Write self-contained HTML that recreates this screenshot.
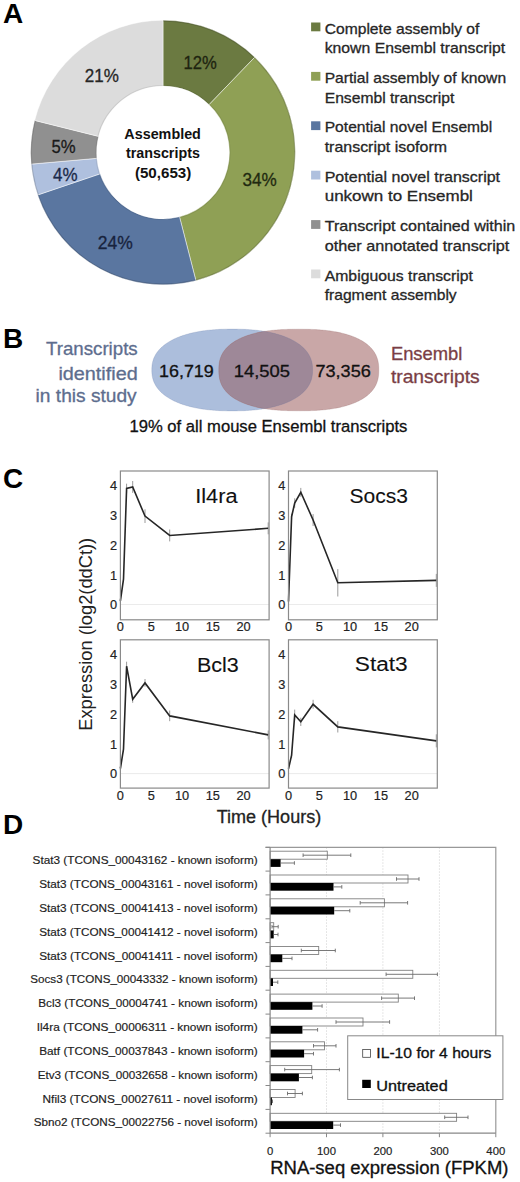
<!DOCTYPE html>
<html><head><meta charset="utf-8"><style>
html,body{margin:0;padding:0;background:#fff;}
svg{display:block;font-family:"Liberation Sans",sans-serif;}
</style></head><body>
<svg width="520" height="1182" viewBox="0 0 520 1182">
<text x="3.0" y="23.2" font-size="28" font-weight="bold" fill="#000">A</text>
<text x="3.0" y="347.7" font-size="28" font-weight="bold" fill="#000">B</text>
<text x="3.0" y="488.2" font-size="28" font-weight="bold" fill="#000">C</text>
<text x="3.0" y="834.0" font-size="28" font-weight="bold" fill="#000">D</text>
<path d="M163.00,20.20 A132.3,132.3 0 0 1 254.77,57.20 L209.06,104.67 A66.4,66.4 0 0 0 163.00,86.10 Z" fill="#6b7a41" stroke="rgba(255,255,255,0.6)" stroke-width="0.8"/>
<path d="M254.77,57.20 A132.3,132.3 0 0 1 195.90,280.64 L179.51,216.81 A66.4,66.4 0 0 0 209.06,104.67 Z" fill="#8fa055" stroke="rgba(255,255,255,0.6)" stroke-width="0.8"/>
<path d="M195.90,280.64 A132.3,132.3 0 0 1 37.70,194.96 L100.11,173.81 A66.4,66.4 0 0 0 179.51,216.81 Z" fill="#5a76a0" stroke="rgba(255,255,255,0.6)" stroke-width="0.8"/>
<path d="M37.70,194.96 A132.3,132.3 0 0 1 31.21,164.12 L96.86,158.33 A66.4,66.4 0 0 0 100.11,173.81 Z" fill="#afc0de" stroke="rgba(255,255,255,0.6)" stroke-width="0.8"/>
<path d="M31.21,164.12 A132.3,132.3 0 0 1 34.65,120.40 L98.58,136.39 A66.4,66.4 0 0 0 96.86,158.33 Z" fill="#909090" stroke="rgba(255,255,255,0.6)" stroke-width="0.8"/>
<path d="M34.65,120.40 A132.3,132.3 0 0 1 163.00,20.20 L163.00,86.10 A66.4,66.4 0 0 0 98.58,136.39 Z" fill="#dcdcdc" stroke="rgba(255,255,255,0.6)" stroke-width="0.8"/>
<path d="M163.00,20.80 A131.70000000000002,131.70000000000002 0 1 1 35.21,120.64" fill="none" stroke="rgba(0,0,0,0.16)" stroke-width="1.2"/>
<circle cx="163.0" cy="152.5" r="67.0" fill="none" stroke="rgba(0,0,0,0.08)" stroke-width="1.2"/>
<text x="183.6" y="68.7" font-size="17.8" fill="#1e2410" textLength="33.3" lengthAdjust="spacingAndGlyphs" stroke="#1e2410" stroke-width="0.30">12%</text>
<text x="242.4" y="186.0" font-size="17.8" fill="#1f2a10" textLength="34.3" lengthAdjust="spacingAndGlyphs" stroke="#1f2a10" stroke-width="0.30">34%</text>
<text x="97.8" y="248.7" font-size="17.8" fill="#18233d" textLength="35.0" lengthAdjust="spacingAndGlyphs" stroke="#18233d" stroke-width="0.30">24%</text>
<text x="53.0" y="181.2" font-size="17.8" fill="#1b2a4a" textLength="24.5" lengthAdjust="spacingAndGlyphs" stroke="#1b2a4a" stroke-width="0.30">4%</text>
<text x="51.5" y="153.3" font-size="17.8" fill="#1a1a1a" textLength="24.1" lengthAdjust="spacingAndGlyphs" stroke="#1a1a1a" stroke-width="0.30">5%</text>
<text x="84.7" y="82.4" font-size="17.8" fill="#262626" textLength="34.1" lengthAdjust="spacingAndGlyphs" stroke="#262626" stroke-width="0.30">21%</text>
<text x="124.3" y="139.4" font-size="14.2" font-weight="bold" fill="#111" textLength="76.6" lengthAdjust="spacingAndGlyphs">Assembled</text>
<text x="125.9" y="158.3" font-size="14.2" font-weight="bold" fill="#111" textLength="74.0" lengthAdjust="spacingAndGlyphs">transcripts</text>
<text x="134.9" y="177.5" font-size="14.2" font-weight="bold" fill="#111" textLength="56.4" lengthAdjust="spacingAndGlyphs">(50,653)</text>
<rect x="311.1" y="22.5" width="9.3" height="8.8" fill="#6b7a41"/>
<text x="324.7" y="33.5" font-size="15" fill="#262626" textLength="154.7" lengthAdjust="spacingAndGlyphs" stroke="#262626" stroke-width="0.30">Complete assembly of</text>
<text x="324.7" y="53.1" font-size="15" fill="#262626" textLength="180.5" lengthAdjust="spacingAndGlyphs" stroke="#262626" stroke-width="0.30">known Ensembl transcript</text>
<rect x="311.1" y="71.9" width="9.3" height="8.8" fill="#8fa055"/>
<text x="324.7" y="82.9" font-size="15" fill="#262626" textLength="181.4" lengthAdjust="spacingAndGlyphs" stroke="#262626" stroke-width="0.30">Partial assembly of known</text>
<text x="324.7" y="102.5" font-size="15" fill="#262626" textLength="129.7" lengthAdjust="spacingAndGlyphs" stroke="#262626" stroke-width="0.30">Ensembl transcript</text>
<rect x="311.1" y="121.3" width="9.3" height="8.8" fill="#5a76a0"/>
<text x="324.7" y="132.3" font-size="15" fill="#262626" textLength="167.6" lengthAdjust="spacingAndGlyphs" stroke="#262626" stroke-width="0.30">Potential novel Ensembl</text>
<text x="324.7" y="151.9" font-size="15" fill="#262626" textLength="122.3" lengthAdjust="spacingAndGlyphs" stroke="#262626" stroke-width="0.30">transcript isoform</text>
<rect x="311.1" y="170.7" width="9.3" height="8.8" fill="#afc0de"/>
<text x="324.7" y="181.7" font-size="15" fill="#262626" textLength="175.4" lengthAdjust="spacingAndGlyphs" stroke="#262626" stroke-width="0.30">Potential novel transcript</text>
<text x="324.7" y="201.3" font-size="15" fill="#262626" textLength="148.2" lengthAdjust="spacingAndGlyphs" stroke="#262626" stroke-width="0.30">unkown to Ensembl</text>
<rect x="311.1" y="220.1" width="9.3" height="8.8" fill="#909090"/>
<text x="324.7" y="231.1" font-size="15" fill="#262626" textLength="190.6" lengthAdjust="spacingAndGlyphs" stroke="#262626" stroke-width="0.30">Transcript contained within</text>
<text x="324.7" y="250.7" font-size="15" fill="#262626" textLength="184.7" lengthAdjust="spacingAndGlyphs" stroke="#262626" stroke-width="0.30">other annotated transcript</text>
<rect x="311.1" y="269.5" width="9.3" height="8.8" fill="#dcdcdc"/>
<text x="324.7" y="280.5" font-size="15" fill="#262626" textLength="148.2" lengthAdjust="spacingAndGlyphs" stroke="#262626" stroke-width="0.30">Ambiguous transcript</text>
<text x="324.7" y="300.1" font-size="15" fill="#262626" textLength="132.0" lengthAdjust="spacingAndGlyphs" stroke="#262626" stroke-width="0.30">fragment assembly</text>
<defs><clipPath id="cb"><path d="M312.60,370.00 L312.59,371.21 L312.56,372.21 L312.50,373.15 L312.43,374.04 L312.33,374.90 L312.22,375.74 L312.08,376.56 L311.92,377.36 L311.74,378.15 L311.54,378.92 L311.31,379.69 L311.07,380.44 L310.81,381.18 L310.52,381.91 L310.21,382.63 L309.88,383.34 L309.54,384.04 L309.17,384.73 L308.78,385.41 L308.37,386.09 L307.94,386.76 L307.48,387.41 L307.01,388.06 L306.52,388.71 L306.01,389.34 L305.48,389.97 L304.92,390.58 L304.35,391.19 L303.76,391.79 L303.15,392.39 L302.52,392.97 L301.86,393.55 L301.19,394.11 L300.50,394.67 L299.80,395.22 L299.07,395.77 L298.32,396.30 L297.56,396.83 L296.77,397.34 L295.97,397.85 L295.15,398.35 L294.31,398.84 L293.45,399.32 L292.57,399.79 L291.68,400.26 L290.77,400.71 L289.84,401.16 L288.89,401.59 L287.93,402.02 L286.95,402.44 L285.95,402.85 L284.93,403.25 L283.90,403.64 L282.85,404.02 L281.78,404.39 L280.70,404.75 L279.60,405.10 L278.48,405.44 L277.35,405.77 L276.20,406.09 L275.04,406.40 L273.86,406.70 L272.66,406.99 L271.45,407.28 L270.22,407.55 L268.97,407.81 L267.71,408.06 L266.43,408.30 L265.14,408.53 L263.83,408.75 L262.50,408.96 L261.16,409.15 L259.80,409.34 L258.42,409.52 L257.02,409.69 L255.61,409.84 L254.17,409.99 L252.72,410.12 L251.24,410.25 L249.74,410.36 L248.22,410.46 L246.67,410.55 L245.09,410.63 L243.48,410.71 L241.83,410.76 L240.14,410.81 L238.38,410.85 L236.55,410.88 L234.58,410.89 L232.20,410.90 L229.82,410.89 L227.85,410.88 L226.02,410.85 L224.26,410.81 L222.57,410.76 L220.92,410.71 L219.31,410.63 L217.73,410.55 L216.18,410.46 L214.66,410.36 L213.16,410.25 L211.68,410.12 L210.23,409.99 L208.79,409.84 L207.38,409.69 L205.98,409.52 L204.60,409.34 L203.24,409.15 L201.90,408.96 L200.57,408.75 L199.26,408.53 L197.97,408.30 L196.69,408.06 L195.43,407.81 L194.18,407.55 L192.95,407.28 L191.74,406.99 L190.54,406.70 L189.36,406.40 L188.20,406.09 L187.05,405.77 L185.92,405.44 L184.80,405.10 L183.70,404.75 L182.62,404.39 L181.55,404.02 L180.50,403.64 L179.47,403.25 L178.45,402.85 L177.45,402.44 L176.47,402.02 L175.51,401.59 L174.56,401.16 L173.63,400.71 L172.72,400.26 L171.83,399.79 L170.95,399.32 L170.09,398.84 L169.25,398.35 L168.43,397.85 L167.63,397.34 L166.84,396.83 L166.08,396.30 L165.33,395.77 L164.60,395.22 L163.90,394.67 L163.21,394.11 L162.54,393.55 L161.88,392.97 L161.25,392.39 L160.64,391.79 L160.05,391.19 L159.48,390.58 L158.92,389.97 L158.39,389.34 L157.88,388.71 L157.39,388.06 L156.92,387.41 L156.46,386.76 L156.03,386.09 L155.62,385.41 L155.23,384.73 L154.86,384.04 L154.52,383.34 L154.19,382.63 L153.88,381.91 L153.59,381.18 L153.33,380.44 L153.09,379.69 L152.86,378.92 L152.66,378.15 L152.48,377.36 L152.32,376.56 L152.18,375.74 L152.07,374.90 L151.97,374.04 L151.90,373.15 L151.84,372.21 L151.81,371.21 L151.80,370.00 L151.81,368.79 L151.84,367.79 L151.90,366.85 L151.97,365.96 L152.07,365.10 L152.18,364.26 L152.32,363.44 L152.48,362.64 L152.66,361.85 L152.86,361.08 L153.09,360.31 L153.33,359.56 L153.59,358.82 L153.88,358.09 L154.19,357.37 L154.52,356.66 L154.86,355.96 L155.23,355.27 L155.62,354.59 L156.03,353.91 L156.46,353.24 L156.92,352.59 L157.39,351.94 L157.88,351.29 L158.39,350.66 L158.92,350.03 L159.48,349.42 L160.05,348.81 L160.64,348.21 L161.25,347.61 L161.88,347.03 L162.54,346.45 L163.21,345.89 L163.90,345.33 L164.60,344.78 L165.33,344.23 L166.08,343.70 L166.84,343.17 L167.63,342.66 L168.43,342.15 L169.25,341.65 L170.09,341.16 L170.95,340.68 L171.83,340.21 L172.72,339.74 L173.63,339.29 L174.56,338.84 L175.51,338.41 L176.47,337.98 L177.45,337.56 L178.45,337.15 L179.47,336.75 L180.50,336.36 L181.55,335.98 L182.62,335.61 L183.70,335.25 L184.80,334.90 L185.92,334.56 L187.05,334.23 L188.20,333.91 L189.36,333.60 L190.54,333.30 L191.74,333.01 L192.95,332.72 L194.18,332.45 L195.43,332.19 L196.69,331.94 L197.97,331.70 L199.26,331.47 L200.57,331.25 L201.90,331.04 L203.24,330.85 L204.60,330.66 L205.98,330.48 L207.38,330.31 L208.79,330.16 L210.23,330.01 L211.68,329.88 L213.16,329.75 L214.66,329.64 L216.18,329.54 L217.73,329.45 L219.31,329.37 L220.92,329.29 L222.57,329.24 L224.26,329.19 L226.02,329.15 L227.85,329.12 L229.82,329.11 L232.20,329.10 L234.58,329.11 L236.55,329.12 L238.38,329.15 L240.14,329.19 L241.83,329.24 L243.48,329.29 L245.09,329.37 L246.67,329.45 L248.22,329.54 L249.74,329.64 L251.24,329.75 L252.72,329.88 L254.17,330.01 L255.61,330.16 L257.02,330.31 L258.42,330.48 L259.80,330.66 L261.16,330.85 L262.50,331.04 L263.83,331.25 L265.14,331.47 L266.43,331.70 L267.71,331.94 L268.97,332.19 L270.22,332.45 L271.45,332.72 L272.66,333.01 L273.86,333.30 L275.04,333.60 L276.20,333.91 L277.35,334.23 L278.48,334.56 L279.60,334.90 L280.70,335.25 L281.78,335.61 L282.85,335.98 L283.90,336.36 L284.93,336.75 L285.95,337.15 L286.95,337.56 L287.93,337.98 L288.89,338.41 L289.84,338.84 L290.77,339.29 L291.68,339.74 L292.57,340.21 L293.45,340.68 L294.31,341.16 L295.15,341.65 L295.97,342.15 L296.77,342.66 L297.56,343.17 L298.32,343.70 L299.07,344.23 L299.80,344.78 L300.50,345.33 L301.19,345.89 L301.86,346.45 L302.52,347.03 L303.15,347.61 L303.76,348.21 L304.35,348.81 L304.92,349.42 L305.48,350.03 L306.01,350.66 L306.52,351.29 L307.01,351.94 L307.48,352.59 L307.94,353.24 L308.37,353.91 L308.78,354.59 L309.17,355.27 L309.54,355.96 L309.88,356.66 L310.21,357.37 L310.52,358.09 L310.81,358.82 L311.07,359.56 L311.31,360.31 L311.54,361.08 L311.74,361.85 L311.92,362.64 L312.08,363.44 L312.22,364.26 L312.33,365.10 L312.43,365.96 L312.50,366.85 L312.56,367.79 L312.59,368.79Z"/></clipPath></defs>
<path d="M312.60,370.00 L312.59,371.21 L312.56,372.21 L312.50,373.15 L312.43,374.04 L312.33,374.90 L312.22,375.74 L312.08,376.56 L311.92,377.36 L311.74,378.15 L311.54,378.92 L311.31,379.69 L311.07,380.44 L310.81,381.18 L310.52,381.91 L310.21,382.63 L309.88,383.34 L309.54,384.04 L309.17,384.73 L308.78,385.41 L308.37,386.09 L307.94,386.76 L307.48,387.41 L307.01,388.06 L306.52,388.71 L306.01,389.34 L305.48,389.97 L304.92,390.58 L304.35,391.19 L303.76,391.79 L303.15,392.39 L302.52,392.97 L301.86,393.55 L301.19,394.11 L300.50,394.67 L299.80,395.22 L299.07,395.77 L298.32,396.30 L297.56,396.83 L296.77,397.34 L295.97,397.85 L295.15,398.35 L294.31,398.84 L293.45,399.32 L292.57,399.79 L291.68,400.26 L290.77,400.71 L289.84,401.16 L288.89,401.59 L287.93,402.02 L286.95,402.44 L285.95,402.85 L284.93,403.25 L283.90,403.64 L282.85,404.02 L281.78,404.39 L280.70,404.75 L279.60,405.10 L278.48,405.44 L277.35,405.77 L276.20,406.09 L275.04,406.40 L273.86,406.70 L272.66,406.99 L271.45,407.28 L270.22,407.55 L268.97,407.81 L267.71,408.06 L266.43,408.30 L265.14,408.53 L263.83,408.75 L262.50,408.96 L261.16,409.15 L259.80,409.34 L258.42,409.52 L257.02,409.69 L255.61,409.84 L254.17,409.99 L252.72,410.12 L251.24,410.25 L249.74,410.36 L248.22,410.46 L246.67,410.55 L245.09,410.63 L243.48,410.71 L241.83,410.76 L240.14,410.81 L238.38,410.85 L236.55,410.88 L234.58,410.89 L232.20,410.90 L229.82,410.89 L227.85,410.88 L226.02,410.85 L224.26,410.81 L222.57,410.76 L220.92,410.71 L219.31,410.63 L217.73,410.55 L216.18,410.46 L214.66,410.36 L213.16,410.25 L211.68,410.12 L210.23,409.99 L208.79,409.84 L207.38,409.69 L205.98,409.52 L204.60,409.34 L203.24,409.15 L201.90,408.96 L200.57,408.75 L199.26,408.53 L197.97,408.30 L196.69,408.06 L195.43,407.81 L194.18,407.55 L192.95,407.28 L191.74,406.99 L190.54,406.70 L189.36,406.40 L188.20,406.09 L187.05,405.77 L185.92,405.44 L184.80,405.10 L183.70,404.75 L182.62,404.39 L181.55,404.02 L180.50,403.64 L179.47,403.25 L178.45,402.85 L177.45,402.44 L176.47,402.02 L175.51,401.59 L174.56,401.16 L173.63,400.71 L172.72,400.26 L171.83,399.79 L170.95,399.32 L170.09,398.84 L169.25,398.35 L168.43,397.85 L167.63,397.34 L166.84,396.83 L166.08,396.30 L165.33,395.77 L164.60,395.22 L163.90,394.67 L163.21,394.11 L162.54,393.55 L161.88,392.97 L161.25,392.39 L160.64,391.79 L160.05,391.19 L159.48,390.58 L158.92,389.97 L158.39,389.34 L157.88,388.71 L157.39,388.06 L156.92,387.41 L156.46,386.76 L156.03,386.09 L155.62,385.41 L155.23,384.73 L154.86,384.04 L154.52,383.34 L154.19,382.63 L153.88,381.91 L153.59,381.18 L153.33,380.44 L153.09,379.69 L152.86,378.92 L152.66,378.15 L152.48,377.36 L152.32,376.56 L152.18,375.74 L152.07,374.90 L151.97,374.04 L151.90,373.15 L151.84,372.21 L151.81,371.21 L151.80,370.00 L151.81,368.79 L151.84,367.79 L151.90,366.85 L151.97,365.96 L152.07,365.10 L152.18,364.26 L152.32,363.44 L152.48,362.64 L152.66,361.85 L152.86,361.08 L153.09,360.31 L153.33,359.56 L153.59,358.82 L153.88,358.09 L154.19,357.37 L154.52,356.66 L154.86,355.96 L155.23,355.27 L155.62,354.59 L156.03,353.91 L156.46,353.24 L156.92,352.59 L157.39,351.94 L157.88,351.29 L158.39,350.66 L158.92,350.03 L159.48,349.42 L160.05,348.81 L160.64,348.21 L161.25,347.61 L161.88,347.03 L162.54,346.45 L163.21,345.89 L163.90,345.33 L164.60,344.78 L165.33,344.23 L166.08,343.70 L166.84,343.17 L167.63,342.66 L168.43,342.15 L169.25,341.65 L170.09,341.16 L170.95,340.68 L171.83,340.21 L172.72,339.74 L173.63,339.29 L174.56,338.84 L175.51,338.41 L176.47,337.98 L177.45,337.56 L178.45,337.15 L179.47,336.75 L180.50,336.36 L181.55,335.98 L182.62,335.61 L183.70,335.25 L184.80,334.90 L185.92,334.56 L187.05,334.23 L188.20,333.91 L189.36,333.60 L190.54,333.30 L191.74,333.01 L192.95,332.72 L194.18,332.45 L195.43,332.19 L196.69,331.94 L197.97,331.70 L199.26,331.47 L200.57,331.25 L201.90,331.04 L203.24,330.85 L204.60,330.66 L205.98,330.48 L207.38,330.31 L208.79,330.16 L210.23,330.01 L211.68,329.88 L213.16,329.75 L214.66,329.64 L216.18,329.54 L217.73,329.45 L219.31,329.37 L220.92,329.29 L222.57,329.24 L224.26,329.19 L226.02,329.15 L227.85,329.12 L229.82,329.11 L232.20,329.10 L234.58,329.11 L236.55,329.12 L238.38,329.15 L240.14,329.19 L241.83,329.24 L243.48,329.29 L245.09,329.37 L246.67,329.45 L248.22,329.54 L249.74,329.64 L251.24,329.75 L252.72,329.88 L254.17,330.01 L255.61,330.16 L257.02,330.31 L258.42,330.48 L259.80,330.66 L261.16,330.85 L262.50,331.04 L263.83,331.25 L265.14,331.47 L266.43,331.70 L267.71,331.94 L268.97,332.19 L270.22,332.45 L271.45,332.72 L272.66,333.01 L273.86,333.30 L275.04,333.60 L276.20,333.91 L277.35,334.23 L278.48,334.56 L279.60,334.90 L280.70,335.25 L281.78,335.61 L282.85,335.98 L283.90,336.36 L284.93,336.75 L285.95,337.15 L286.95,337.56 L287.93,337.98 L288.89,338.41 L289.84,338.84 L290.77,339.29 L291.68,339.74 L292.57,340.21 L293.45,340.68 L294.31,341.16 L295.15,341.65 L295.97,342.15 L296.77,342.66 L297.56,343.17 L298.32,343.70 L299.07,344.23 L299.80,344.78 L300.50,345.33 L301.19,345.89 L301.86,346.45 L302.52,347.03 L303.15,347.61 L303.76,348.21 L304.35,348.81 L304.92,349.42 L305.48,350.03 L306.01,350.66 L306.52,351.29 L307.01,351.94 L307.48,352.59 L307.94,353.24 L308.37,353.91 L308.78,354.59 L309.17,355.27 L309.54,355.96 L309.88,356.66 L310.21,357.37 L310.52,358.09 L310.81,358.82 L311.07,359.56 L311.31,360.31 L311.54,361.08 L311.74,361.85 L311.92,362.64 L312.08,363.44 L312.22,364.26 L312.33,365.10 L312.43,365.96 L312.50,366.85 L312.56,367.79 L312.59,368.79Z" fill="#acbedc"/>
<path d="M378.80,370.00 L378.79,371.50 L378.76,372.64 L378.71,373.67 L378.64,374.64 L378.55,375.57 L378.44,376.46 L378.31,377.32 L378.16,378.16 L378.00,378.97 L377.81,379.77 L377.60,380.55 L377.37,381.32 L377.12,382.07 L376.85,382.81 L376.57,383.54 L376.26,384.25 L375.93,384.95 L375.59,385.64 L375.22,386.32 L374.84,386.99 L374.44,387.65 L374.01,388.30 L373.57,388.95 L373.11,389.58 L372.63,390.20 L372.13,390.81 L371.61,391.41 L371.07,392.01 L370.51,392.59 L369.94,393.17 L369.34,393.74 L368.73,394.30 L368.10,394.84 L367.45,395.39 L366.78,395.92 L366.09,396.44 L365.38,396.95 L364.66,397.46 L363.92,397.96 L363.16,398.44 L362.38,398.92 L361.58,399.39 L360.77,399.85 L359.94,400.30 L359.09,400.75 L358.22,401.18 L357.33,401.60 L356.43,402.02 L355.51,402.43 L354.57,402.82 L353.62,403.21 L352.64,403.59 L351.65,403.96 L350.64,404.32 L349.62,404.67 L348.58,405.01 L347.52,405.34 L346.44,405.66 L345.34,405.98 L344.23,406.28 L343.10,406.57 L341.95,406.86 L340.79,407.13 L339.61,407.40 L338.40,407.65 L337.19,407.90 L335.95,408.13 L334.69,408.36 L333.42,408.57 L332.12,408.78 L330.81,408.98 L329.47,409.16 L328.12,409.34 L326.74,409.51 L325.34,409.66 L323.92,409.81 L322.47,409.94 L321.00,410.07 L319.49,410.19 L317.96,410.29 L316.40,410.39 L314.79,410.48 L313.15,410.55 L311.46,410.62 L309.72,410.67 L307.90,410.72 L306.00,410.75 L303.97,410.78 L301.74,410.79 L298.80,410.80 L295.86,410.79 L293.63,410.78 L291.60,410.75 L289.70,410.72 L287.88,410.67 L286.14,410.62 L284.45,410.55 L282.81,410.48 L281.20,410.39 L279.64,410.29 L278.11,410.19 L276.60,410.07 L275.13,409.94 L273.68,409.81 L272.26,409.66 L270.86,409.51 L269.48,409.34 L268.13,409.16 L266.79,408.98 L265.48,408.78 L264.18,408.57 L262.91,408.36 L261.65,408.13 L260.41,407.90 L259.20,407.65 L257.99,407.40 L256.81,407.13 L255.65,406.86 L254.50,406.57 L253.37,406.28 L252.26,405.98 L251.16,405.66 L250.08,405.34 L249.02,405.01 L247.98,404.67 L246.96,404.32 L245.95,403.96 L244.96,403.59 L243.98,403.21 L243.03,402.82 L242.09,402.43 L241.17,402.02 L240.27,401.60 L239.38,401.18 L238.51,400.75 L237.66,400.30 L236.83,399.85 L236.02,399.39 L235.22,398.92 L234.44,398.44 L233.68,397.96 L232.94,397.46 L232.22,396.95 L231.51,396.44 L230.82,395.92 L230.15,395.39 L229.50,394.84 L228.87,394.30 L228.26,393.74 L227.66,393.17 L227.09,392.59 L226.53,392.01 L225.99,391.41 L225.47,390.81 L224.97,390.20 L224.49,389.58 L224.03,388.95 L223.59,388.30 L223.16,387.65 L222.76,386.99 L222.38,386.32 L222.01,385.64 L221.67,384.95 L221.34,384.25 L221.03,383.54 L220.75,382.81 L220.48,382.07 L220.23,381.32 L220.00,380.55 L219.79,379.77 L219.60,378.97 L219.44,378.16 L219.29,377.32 L219.16,376.46 L219.05,375.57 L218.96,374.64 L218.89,373.67 L218.84,372.64 L218.81,371.50 L218.80,370.00 L218.81,368.50 L218.84,367.36 L218.89,366.33 L218.96,365.36 L219.05,364.43 L219.16,363.54 L219.29,362.68 L219.44,361.84 L219.60,361.03 L219.79,360.23 L220.00,359.45 L220.23,358.68 L220.48,357.93 L220.75,357.19 L221.03,356.46 L221.34,355.75 L221.67,355.05 L222.01,354.36 L222.38,353.68 L222.76,353.01 L223.16,352.35 L223.59,351.70 L224.03,351.05 L224.49,350.42 L224.97,349.80 L225.47,349.19 L225.99,348.59 L226.53,347.99 L227.09,347.41 L227.66,346.83 L228.26,346.26 L228.87,345.70 L229.50,345.16 L230.15,344.61 L230.82,344.08 L231.51,343.56 L232.22,343.05 L232.94,342.54 L233.68,342.04 L234.44,341.56 L235.22,341.08 L236.02,340.61 L236.83,340.15 L237.66,339.70 L238.51,339.25 L239.38,338.82 L240.27,338.40 L241.17,337.98 L242.09,337.57 L243.03,337.18 L243.98,336.79 L244.96,336.41 L245.95,336.04 L246.96,335.68 L247.98,335.33 L249.02,334.99 L250.08,334.66 L251.16,334.34 L252.26,334.02 L253.37,333.72 L254.50,333.43 L255.65,333.14 L256.81,332.87 L257.99,332.60 L259.20,332.35 L260.41,332.10 L261.65,331.87 L262.91,331.64 L264.18,331.43 L265.48,331.22 L266.79,331.02 L268.13,330.84 L269.48,330.66 L270.86,330.49 L272.26,330.34 L273.68,330.19 L275.13,330.06 L276.60,329.93 L278.11,329.81 L279.64,329.71 L281.20,329.61 L282.81,329.52 L284.45,329.45 L286.14,329.38 L287.88,329.33 L289.70,329.28 L291.60,329.25 L293.63,329.22 L295.86,329.21 L298.80,329.20 L301.74,329.21 L303.97,329.22 L306.00,329.25 L307.90,329.28 L309.72,329.33 L311.46,329.38 L313.15,329.45 L314.79,329.52 L316.40,329.61 L317.96,329.71 L319.49,329.81 L321.00,329.93 L322.47,330.06 L323.92,330.19 L325.34,330.34 L326.74,330.49 L328.12,330.66 L329.47,330.84 L330.81,331.02 L332.12,331.22 L333.42,331.43 L334.69,331.64 L335.95,331.87 L337.19,332.10 L338.40,332.35 L339.61,332.60 L340.79,332.87 L341.95,333.14 L343.10,333.43 L344.23,333.72 L345.34,334.02 L346.44,334.34 L347.52,334.66 L348.58,334.99 L349.62,335.33 L350.64,335.68 L351.65,336.04 L352.64,336.41 L353.62,336.79 L354.57,337.18 L355.51,337.57 L356.43,337.98 L357.33,338.40 L358.22,338.82 L359.09,339.25 L359.94,339.70 L360.77,340.15 L361.58,340.61 L362.38,341.08 L363.16,341.56 L363.92,342.04 L364.66,342.54 L365.38,343.05 L366.09,343.56 L366.78,344.08 L367.45,344.61 L368.10,345.16 L368.73,345.70 L369.34,346.26 L369.94,346.83 L370.51,347.41 L371.07,347.99 L371.61,348.59 L372.13,349.19 L372.63,349.80 L373.11,350.42 L373.57,351.05 L374.01,351.70 L374.44,352.35 L374.84,353.01 L375.22,353.68 L375.59,354.36 L375.93,355.05 L376.26,355.75 L376.57,356.46 L376.85,357.19 L377.12,357.93 L377.37,358.68 L377.60,359.45 L377.81,360.23 L378.00,361.03 L378.16,361.84 L378.31,362.68 L378.44,363.54 L378.55,364.43 L378.64,365.36 L378.71,366.33 L378.76,367.36 L378.79,368.50Z" fill="#c9a7a7"/>
<path d="M378.80,370.00 L378.79,371.50 L378.76,372.64 L378.71,373.67 L378.64,374.64 L378.55,375.57 L378.44,376.46 L378.31,377.32 L378.16,378.16 L378.00,378.97 L377.81,379.77 L377.60,380.55 L377.37,381.32 L377.12,382.07 L376.85,382.81 L376.57,383.54 L376.26,384.25 L375.93,384.95 L375.59,385.64 L375.22,386.32 L374.84,386.99 L374.44,387.65 L374.01,388.30 L373.57,388.95 L373.11,389.58 L372.63,390.20 L372.13,390.81 L371.61,391.41 L371.07,392.01 L370.51,392.59 L369.94,393.17 L369.34,393.74 L368.73,394.30 L368.10,394.84 L367.45,395.39 L366.78,395.92 L366.09,396.44 L365.38,396.95 L364.66,397.46 L363.92,397.96 L363.16,398.44 L362.38,398.92 L361.58,399.39 L360.77,399.85 L359.94,400.30 L359.09,400.75 L358.22,401.18 L357.33,401.60 L356.43,402.02 L355.51,402.43 L354.57,402.82 L353.62,403.21 L352.64,403.59 L351.65,403.96 L350.64,404.32 L349.62,404.67 L348.58,405.01 L347.52,405.34 L346.44,405.66 L345.34,405.98 L344.23,406.28 L343.10,406.57 L341.95,406.86 L340.79,407.13 L339.61,407.40 L338.40,407.65 L337.19,407.90 L335.95,408.13 L334.69,408.36 L333.42,408.57 L332.12,408.78 L330.81,408.98 L329.47,409.16 L328.12,409.34 L326.74,409.51 L325.34,409.66 L323.92,409.81 L322.47,409.94 L321.00,410.07 L319.49,410.19 L317.96,410.29 L316.40,410.39 L314.79,410.48 L313.15,410.55 L311.46,410.62 L309.72,410.67 L307.90,410.72 L306.00,410.75 L303.97,410.78 L301.74,410.79 L298.80,410.80 L295.86,410.79 L293.63,410.78 L291.60,410.75 L289.70,410.72 L287.88,410.67 L286.14,410.62 L284.45,410.55 L282.81,410.48 L281.20,410.39 L279.64,410.29 L278.11,410.19 L276.60,410.07 L275.13,409.94 L273.68,409.81 L272.26,409.66 L270.86,409.51 L269.48,409.34 L268.13,409.16 L266.79,408.98 L265.48,408.78 L264.18,408.57 L262.91,408.36 L261.65,408.13 L260.41,407.90 L259.20,407.65 L257.99,407.40 L256.81,407.13 L255.65,406.86 L254.50,406.57 L253.37,406.28 L252.26,405.98 L251.16,405.66 L250.08,405.34 L249.02,405.01 L247.98,404.67 L246.96,404.32 L245.95,403.96 L244.96,403.59 L243.98,403.21 L243.03,402.82 L242.09,402.43 L241.17,402.02 L240.27,401.60 L239.38,401.18 L238.51,400.75 L237.66,400.30 L236.83,399.85 L236.02,399.39 L235.22,398.92 L234.44,398.44 L233.68,397.96 L232.94,397.46 L232.22,396.95 L231.51,396.44 L230.82,395.92 L230.15,395.39 L229.50,394.84 L228.87,394.30 L228.26,393.74 L227.66,393.17 L227.09,392.59 L226.53,392.01 L225.99,391.41 L225.47,390.81 L224.97,390.20 L224.49,389.58 L224.03,388.95 L223.59,388.30 L223.16,387.65 L222.76,386.99 L222.38,386.32 L222.01,385.64 L221.67,384.95 L221.34,384.25 L221.03,383.54 L220.75,382.81 L220.48,382.07 L220.23,381.32 L220.00,380.55 L219.79,379.77 L219.60,378.97 L219.44,378.16 L219.29,377.32 L219.16,376.46 L219.05,375.57 L218.96,374.64 L218.89,373.67 L218.84,372.64 L218.81,371.50 L218.80,370.00 L218.81,368.50 L218.84,367.36 L218.89,366.33 L218.96,365.36 L219.05,364.43 L219.16,363.54 L219.29,362.68 L219.44,361.84 L219.60,361.03 L219.79,360.23 L220.00,359.45 L220.23,358.68 L220.48,357.93 L220.75,357.19 L221.03,356.46 L221.34,355.75 L221.67,355.05 L222.01,354.36 L222.38,353.68 L222.76,353.01 L223.16,352.35 L223.59,351.70 L224.03,351.05 L224.49,350.42 L224.97,349.80 L225.47,349.19 L225.99,348.59 L226.53,347.99 L227.09,347.41 L227.66,346.83 L228.26,346.26 L228.87,345.70 L229.50,345.16 L230.15,344.61 L230.82,344.08 L231.51,343.56 L232.22,343.05 L232.94,342.54 L233.68,342.04 L234.44,341.56 L235.22,341.08 L236.02,340.61 L236.83,340.15 L237.66,339.70 L238.51,339.25 L239.38,338.82 L240.27,338.40 L241.17,337.98 L242.09,337.57 L243.03,337.18 L243.98,336.79 L244.96,336.41 L245.95,336.04 L246.96,335.68 L247.98,335.33 L249.02,334.99 L250.08,334.66 L251.16,334.34 L252.26,334.02 L253.37,333.72 L254.50,333.43 L255.65,333.14 L256.81,332.87 L257.99,332.60 L259.20,332.35 L260.41,332.10 L261.65,331.87 L262.91,331.64 L264.18,331.43 L265.48,331.22 L266.79,331.02 L268.13,330.84 L269.48,330.66 L270.86,330.49 L272.26,330.34 L273.68,330.19 L275.13,330.06 L276.60,329.93 L278.11,329.81 L279.64,329.71 L281.20,329.61 L282.81,329.52 L284.45,329.45 L286.14,329.38 L287.88,329.33 L289.70,329.28 L291.60,329.25 L293.63,329.22 L295.86,329.21 L298.80,329.20 L301.74,329.21 L303.97,329.22 L306.00,329.25 L307.90,329.28 L309.72,329.33 L311.46,329.38 L313.15,329.45 L314.79,329.52 L316.40,329.61 L317.96,329.71 L319.49,329.81 L321.00,329.93 L322.47,330.06 L323.92,330.19 L325.34,330.34 L326.74,330.49 L328.12,330.66 L329.47,330.84 L330.81,331.02 L332.12,331.22 L333.42,331.43 L334.69,331.64 L335.95,331.87 L337.19,332.10 L338.40,332.35 L339.61,332.60 L340.79,332.87 L341.95,333.14 L343.10,333.43 L344.23,333.72 L345.34,334.02 L346.44,334.34 L347.52,334.66 L348.58,334.99 L349.62,335.33 L350.64,335.68 L351.65,336.04 L352.64,336.41 L353.62,336.79 L354.57,337.18 L355.51,337.57 L356.43,337.98 L357.33,338.40 L358.22,338.82 L359.09,339.25 L359.94,339.70 L360.77,340.15 L361.58,340.61 L362.38,341.08 L363.16,341.56 L363.92,342.04 L364.66,342.54 L365.38,343.05 L366.09,343.56 L366.78,344.08 L367.45,344.61 L368.10,345.16 L368.73,345.70 L369.34,346.26 L369.94,346.83 L370.51,347.41 L371.07,347.99 L371.61,348.59 L372.13,349.19 L372.63,349.80 L373.11,350.42 L373.57,351.05 L374.01,351.70 L374.44,352.35 L374.84,353.01 L375.22,353.68 L375.59,354.36 L375.93,355.05 L376.26,355.75 L376.57,356.46 L376.85,357.19 L377.12,357.93 L377.37,358.68 L377.60,359.45 L377.81,360.23 L378.00,361.03 L378.16,361.84 L378.31,362.68 L378.44,363.54 L378.55,364.43 L378.64,365.36 L378.71,366.33 L378.76,367.36 L378.79,368.50Z" fill="#9e8898" clip-path="url(#cb)"/>
<path d="M312.60,370.00 L312.59,371.21 L312.56,372.21 L312.50,373.15 L312.43,374.04 L312.33,374.90 L312.22,375.74 L312.08,376.56 L311.92,377.36 L311.74,378.15 L311.54,378.92 L311.31,379.69 L311.07,380.44 L310.81,381.18 L310.52,381.91 L310.21,382.63 L309.88,383.34 L309.54,384.04 L309.17,384.73 L308.78,385.41 L308.37,386.09 L307.94,386.76 L307.48,387.41 L307.01,388.06 L306.52,388.71 L306.01,389.34 L305.48,389.97 L304.92,390.58 L304.35,391.19 L303.76,391.79 L303.15,392.39 L302.52,392.97 L301.86,393.55 L301.19,394.11 L300.50,394.67 L299.80,395.22 L299.07,395.77 L298.32,396.30 L297.56,396.83 L296.77,397.34 L295.97,397.85 L295.15,398.35 L294.31,398.84 L293.45,399.32 L292.57,399.79 L291.68,400.26 L290.77,400.71 L289.84,401.16 L288.89,401.59 L287.93,402.02 L286.95,402.44 L285.95,402.85 L284.93,403.25 L283.90,403.64 L282.85,404.02 L281.78,404.39 L280.70,404.75 L279.60,405.10 L278.48,405.44 L277.35,405.77 L276.20,406.09 L275.04,406.40 L273.86,406.70 L272.66,406.99 L271.45,407.28 L270.22,407.55 L268.97,407.81 L267.71,408.06 L266.43,408.30 L265.14,408.53 L263.83,408.75 L262.50,408.96 L261.16,409.15 L259.80,409.34 L258.42,409.52 L257.02,409.69 L255.61,409.84 L254.17,409.99 L252.72,410.12 L251.24,410.25 L249.74,410.36 L248.22,410.46 L246.67,410.55 L245.09,410.63 L243.48,410.71 L241.83,410.76 L240.14,410.81 L238.38,410.85 L236.55,410.88 L234.58,410.89 L232.20,410.90 L229.82,410.89 L227.85,410.88 L226.02,410.85 L224.26,410.81 L222.57,410.76 L220.92,410.71 L219.31,410.63 L217.73,410.55 L216.18,410.46 L214.66,410.36 L213.16,410.25 L211.68,410.12 L210.23,409.99 L208.79,409.84 L207.38,409.69 L205.98,409.52 L204.60,409.34 L203.24,409.15 L201.90,408.96 L200.57,408.75 L199.26,408.53 L197.97,408.30 L196.69,408.06 L195.43,407.81 L194.18,407.55 L192.95,407.28 L191.74,406.99 L190.54,406.70 L189.36,406.40 L188.20,406.09 L187.05,405.77 L185.92,405.44 L184.80,405.10 L183.70,404.75 L182.62,404.39 L181.55,404.02 L180.50,403.64 L179.47,403.25 L178.45,402.85 L177.45,402.44 L176.47,402.02 L175.51,401.59 L174.56,401.16 L173.63,400.71 L172.72,400.26 L171.83,399.79 L170.95,399.32 L170.09,398.84 L169.25,398.35 L168.43,397.85 L167.63,397.34 L166.84,396.83 L166.08,396.30 L165.33,395.77 L164.60,395.22 L163.90,394.67 L163.21,394.11 L162.54,393.55 L161.88,392.97 L161.25,392.39 L160.64,391.79 L160.05,391.19 L159.48,390.58 L158.92,389.97 L158.39,389.34 L157.88,388.71 L157.39,388.06 L156.92,387.41 L156.46,386.76 L156.03,386.09 L155.62,385.41 L155.23,384.73 L154.86,384.04 L154.52,383.34 L154.19,382.63 L153.88,381.91 L153.59,381.18 L153.33,380.44 L153.09,379.69 L152.86,378.92 L152.66,378.15 L152.48,377.36 L152.32,376.56 L152.18,375.74 L152.07,374.90 L151.97,374.04 L151.90,373.15 L151.84,372.21 L151.81,371.21 L151.80,370.00 L151.81,368.79 L151.84,367.79 L151.90,366.85 L151.97,365.96 L152.07,365.10 L152.18,364.26 L152.32,363.44 L152.48,362.64 L152.66,361.85 L152.86,361.08 L153.09,360.31 L153.33,359.56 L153.59,358.82 L153.88,358.09 L154.19,357.37 L154.52,356.66 L154.86,355.96 L155.23,355.27 L155.62,354.59 L156.03,353.91 L156.46,353.24 L156.92,352.59 L157.39,351.94 L157.88,351.29 L158.39,350.66 L158.92,350.03 L159.48,349.42 L160.05,348.81 L160.64,348.21 L161.25,347.61 L161.88,347.03 L162.54,346.45 L163.21,345.89 L163.90,345.33 L164.60,344.78 L165.33,344.23 L166.08,343.70 L166.84,343.17 L167.63,342.66 L168.43,342.15 L169.25,341.65 L170.09,341.16 L170.95,340.68 L171.83,340.21 L172.72,339.74 L173.63,339.29 L174.56,338.84 L175.51,338.41 L176.47,337.98 L177.45,337.56 L178.45,337.15 L179.47,336.75 L180.50,336.36 L181.55,335.98 L182.62,335.61 L183.70,335.25 L184.80,334.90 L185.92,334.56 L187.05,334.23 L188.20,333.91 L189.36,333.60 L190.54,333.30 L191.74,333.01 L192.95,332.72 L194.18,332.45 L195.43,332.19 L196.69,331.94 L197.97,331.70 L199.26,331.47 L200.57,331.25 L201.90,331.04 L203.24,330.85 L204.60,330.66 L205.98,330.48 L207.38,330.31 L208.79,330.16 L210.23,330.01 L211.68,329.88 L213.16,329.75 L214.66,329.64 L216.18,329.54 L217.73,329.45 L219.31,329.37 L220.92,329.29 L222.57,329.24 L224.26,329.19 L226.02,329.15 L227.85,329.12 L229.82,329.11 L232.20,329.10 L234.58,329.11 L236.55,329.12 L238.38,329.15 L240.14,329.19 L241.83,329.24 L243.48,329.29 L245.09,329.37 L246.67,329.45 L248.22,329.54 L249.74,329.64 L251.24,329.75 L252.72,329.88 L254.17,330.01 L255.61,330.16 L257.02,330.31 L258.42,330.48 L259.80,330.66 L261.16,330.85 L262.50,331.04 L263.83,331.25 L265.14,331.47 L266.43,331.70 L267.71,331.94 L268.97,332.19 L270.22,332.45 L271.45,332.72 L272.66,333.01 L273.86,333.30 L275.04,333.60 L276.20,333.91 L277.35,334.23 L278.48,334.56 L279.60,334.90 L280.70,335.25 L281.78,335.61 L282.85,335.98 L283.90,336.36 L284.93,336.75 L285.95,337.15 L286.95,337.56 L287.93,337.98 L288.89,338.41 L289.84,338.84 L290.77,339.29 L291.68,339.74 L292.57,340.21 L293.45,340.68 L294.31,341.16 L295.15,341.65 L295.97,342.15 L296.77,342.66 L297.56,343.17 L298.32,343.70 L299.07,344.23 L299.80,344.78 L300.50,345.33 L301.19,345.89 L301.86,346.45 L302.52,347.03 L303.15,347.61 L303.76,348.21 L304.35,348.81 L304.92,349.42 L305.48,350.03 L306.01,350.66 L306.52,351.29 L307.01,351.94 L307.48,352.59 L307.94,353.24 L308.37,353.91 L308.78,354.59 L309.17,355.27 L309.54,355.96 L309.88,356.66 L310.21,357.37 L310.52,358.09 L310.81,358.82 L311.07,359.56 L311.31,360.31 L311.54,361.08 L311.74,361.85 L311.92,362.64 L312.08,363.44 L312.22,364.26 L312.33,365.10 L312.43,365.96 L312.50,366.85 L312.56,367.79 L312.59,368.79Z" fill="none" stroke="rgba(80,100,150,0.18)" stroke-width="1"/>
<path d="M378.80,370.00 L378.79,371.50 L378.76,372.64 L378.71,373.67 L378.64,374.64 L378.55,375.57 L378.44,376.46 L378.31,377.32 L378.16,378.16 L378.00,378.97 L377.81,379.77 L377.60,380.55 L377.37,381.32 L377.12,382.07 L376.85,382.81 L376.57,383.54 L376.26,384.25 L375.93,384.95 L375.59,385.64 L375.22,386.32 L374.84,386.99 L374.44,387.65 L374.01,388.30 L373.57,388.95 L373.11,389.58 L372.63,390.20 L372.13,390.81 L371.61,391.41 L371.07,392.01 L370.51,392.59 L369.94,393.17 L369.34,393.74 L368.73,394.30 L368.10,394.84 L367.45,395.39 L366.78,395.92 L366.09,396.44 L365.38,396.95 L364.66,397.46 L363.92,397.96 L363.16,398.44 L362.38,398.92 L361.58,399.39 L360.77,399.85 L359.94,400.30 L359.09,400.75 L358.22,401.18 L357.33,401.60 L356.43,402.02 L355.51,402.43 L354.57,402.82 L353.62,403.21 L352.64,403.59 L351.65,403.96 L350.64,404.32 L349.62,404.67 L348.58,405.01 L347.52,405.34 L346.44,405.66 L345.34,405.98 L344.23,406.28 L343.10,406.57 L341.95,406.86 L340.79,407.13 L339.61,407.40 L338.40,407.65 L337.19,407.90 L335.95,408.13 L334.69,408.36 L333.42,408.57 L332.12,408.78 L330.81,408.98 L329.47,409.16 L328.12,409.34 L326.74,409.51 L325.34,409.66 L323.92,409.81 L322.47,409.94 L321.00,410.07 L319.49,410.19 L317.96,410.29 L316.40,410.39 L314.79,410.48 L313.15,410.55 L311.46,410.62 L309.72,410.67 L307.90,410.72 L306.00,410.75 L303.97,410.78 L301.74,410.79 L298.80,410.80 L295.86,410.79 L293.63,410.78 L291.60,410.75 L289.70,410.72 L287.88,410.67 L286.14,410.62 L284.45,410.55 L282.81,410.48 L281.20,410.39 L279.64,410.29 L278.11,410.19 L276.60,410.07 L275.13,409.94 L273.68,409.81 L272.26,409.66 L270.86,409.51 L269.48,409.34 L268.13,409.16 L266.79,408.98 L265.48,408.78 L264.18,408.57 L262.91,408.36 L261.65,408.13 L260.41,407.90 L259.20,407.65 L257.99,407.40 L256.81,407.13 L255.65,406.86 L254.50,406.57 L253.37,406.28 L252.26,405.98 L251.16,405.66 L250.08,405.34 L249.02,405.01 L247.98,404.67 L246.96,404.32 L245.95,403.96 L244.96,403.59 L243.98,403.21 L243.03,402.82 L242.09,402.43 L241.17,402.02 L240.27,401.60 L239.38,401.18 L238.51,400.75 L237.66,400.30 L236.83,399.85 L236.02,399.39 L235.22,398.92 L234.44,398.44 L233.68,397.96 L232.94,397.46 L232.22,396.95 L231.51,396.44 L230.82,395.92 L230.15,395.39 L229.50,394.84 L228.87,394.30 L228.26,393.74 L227.66,393.17 L227.09,392.59 L226.53,392.01 L225.99,391.41 L225.47,390.81 L224.97,390.20 L224.49,389.58 L224.03,388.95 L223.59,388.30 L223.16,387.65 L222.76,386.99 L222.38,386.32 L222.01,385.64 L221.67,384.95 L221.34,384.25 L221.03,383.54 L220.75,382.81 L220.48,382.07 L220.23,381.32 L220.00,380.55 L219.79,379.77 L219.60,378.97 L219.44,378.16 L219.29,377.32 L219.16,376.46 L219.05,375.57 L218.96,374.64 L218.89,373.67 L218.84,372.64 L218.81,371.50 L218.80,370.00 L218.81,368.50 L218.84,367.36 L218.89,366.33 L218.96,365.36 L219.05,364.43 L219.16,363.54 L219.29,362.68 L219.44,361.84 L219.60,361.03 L219.79,360.23 L220.00,359.45 L220.23,358.68 L220.48,357.93 L220.75,357.19 L221.03,356.46 L221.34,355.75 L221.67,355.05 L222.01,354.36 L222.38,353.68 L222.76,353.01 L223.16,352.35 L223.59,351.70 L224.03,351.05 L224.49,350.42 L224.97,349.80 L225.47,349.19 L225.99,348.59 L226.53,347.99 L227.09,347.41 L227.66,346.83 L228.26,346.26 L228.87,345.70 L229.50,345.16 L230.15,344.61 L230.82,344.08 L231.51,343.56 L232.22,343.05 L232.94,342.54 L233.68,342.04 L234.44,341.56 L235.22,341.08 L236.02,340.61 L236.83,340.15 L237.66,339.70 L238.51,339.25 L239.38,338.82 L240.27,338.40 L241.17,337.98 L242.09,337.57 L243.03,337.18 L243.98,336.79 L244.96,336.41 L245.95,336.04 L246.96,335.68 L247.98,335.33 L249.02,334.99 L250.08,334.66 L251.16,334.34 L252.26,334.02 L253.37,333.72 L254.50,333.43 L255.65,333.14 L256.81,332.87 L257.99,332.60 L259.20,332.35 L260.41,332.10 L261.65,331.87 L262.91,331.64 L264.18,331.43 L265.48,331.22 L266.79,331.02 L268.13,330.84 L269.48,330.66 L270.86,330.49 L272.26,330.34 L273.68,330.19 L275.13,330.06 L276.60,329.93 L278.11,329.81 L279.64,329.71 L281.20,329.61 L282.81,329.52 L284.45,329.45 L286.14,329.38 L287.88,329.33 L289.70,329.28 L291.60,329.25 L293.63,329.22 L295.86,329.21 L298.80,329.20 L301.74,329.21 L303.97,329.22 L306.00,329.25 L307.90,329.28 L309.72,329.33 L311.46,329.38 L313.15,329.45 L314.79,329.52 L316.40,329.61 L317.96,329.71 L319.49,329.81 L321.00,329.93 L322.47,330.06 L323.92,330.19 L325.34,330.34 L326.74,330.49 L328.12,330.66 L329.47,330.84 L330.81,331.02 L332.12,331.22 L333.42,331.43 L334.69,331.64 L335.95,331.87 L337.19,332.10 L338.40,332.35 L339.61,332.60 L340.79,332.87 L341.95,333.14 L343.10,333.43 L344.23,333.72 L345.34,334.02 L346.44,334.34 L347.52,334.66 L348.58,334.99 L349.62,335.33 L350.64,335.68 L351.65,336.04 L352.64,336.41 L353.62,336.79 L354.57,337.18 L355.51,337.57 L356.43,337.98 L357.33,338.40 L358.22,338.82 L359.09,339.25 L359.94,339.70 L360.77,340.15 L361.58,340.61 L362.38,341.08 L363.16,341.56 L363.92,342.04 L364.66,342.54 L365.38,343.05 L366.09,343.56 L366.78,344.08 L367.45,344.61 L368.10,345.16 L368.73,345.70 L369.34,346.26 L369.94,346.83 L370.51,347.41 L371.07,347.99 L371.61,348.59 L372.13,349.19 L372.63,349.80 L373.11,350.42 L373.57,351.05 L374.01,351.70 L374.44,352.35 L374.84,353.01 L375.22,353.68 L375.59,354.36 L375.93,355.05 L376.26,355.75 L376.57,356.46 L376.85,357.19 L377.12,357.93 L377.37,358.68 L377.60,359.45 L377.81,360.23 L378.00,361.03 L378.16,361.84 L378.31,362.68 L378.44,363.54 L378.55,364.43 L378.64,365.36 L378.71,366.33 L378.76,367.36 L378.79,368.50Z" fill="none" stroke="rgba(120,70,70,0.18)" stroke-width="1"/>
<text x="46.0" y="355.3" font-size="18.2" fill="#5d6d8e" textLength="91.7" lengthAdjust="spacingAndGlyphs" stroke="#5d6d8e" stroke-width="0.30">Transcripts</text>
<text x="58.4" y="379.8" font-size="18.2" fill="#5d6d8e" textLength="79.3" lengthAdjust="spacingAndGlyphs" stroke="#5d6d8e" stroke-width="0.30">identified</text>
<text x="35.6" y="402.3" font-size="18.2" fill="#5d6d8e" textLength="101.1" lengthAdjust="spacingAndGlyphs" stroke="#5d6d8e" stroke-width="0.30">in this study</text>
<text x="390.9" y="359.7" font-size="18.2" fill="#7a3e45" textLength="71.5" lengthAdjust="spacingAndGlyphs" stroke="#7a3e45" stroke-width="0.30">Ensembl</text>
<text x="390.9" y="383.4" font-size="18.2" fill="#7a3e45" textLength="88.8" lengthAdjust="spacingAndGlyphs" stroke="#7a3e45" stroke-width="0.30">transcripts</text>
<text x="159.0" y="376.7" font-size="17" fill="#111" textLength="54.8" lengthAdjust="spacingAndGlyphs" stroke="#111" stroke-width="0.30">16,719</text>
<text x="233.8" y="376.7" font-size="17" fill="#111" textLength="56.2" lengthAdjust="spacingAndGlyphs" stroke="#111" stroke-width="0.30">14,505</text>
<text x="315.4" y="376.7" font-size="17" fill="#111" textLength="55.4" lengthAdjust="spacingAndGlyphs" stroke="#111" stroke-width="0.30">73,356</text>
<text x="129.5" y="432.0" font-size="16.3" fill="#111" textLength="277.9" lengthAdjust="spacingAndGlyphs" stroke="#111" stroke-width="0.30">19% of all mouse Ensembl transcripts</text>
<line x1="120.4" y1="604.5" x2="269.1" y2="604.5" stroke="#ebebeb" stroke-width="1"/>
<line x1="120.4" y1="599.4" x2="120.4" y2="602.4" stroke="#9a9a9a" stroke-width="1"/>
<line x1="123.5" y1="576.2" x2="123.5" y2="582.2" stroke="#9a9a9a" stroke-width="1"/>
<line x1="126.6" y1="483.7" x2="126.6" y2="493.2" stroke="#9a9a9a" stroke-width="1"/>
<line x1="132.7" y1="481.0" x2="132.7" y2="492.9" stroke="#9a9a9a" stroke-width="1"/>
<line x1="145.0" y1="509.3" x2="145.0" y2="523.0" stroke="#9a9a9a" stroke-width="1"/>
<line x1="169.7" y1="529.5" x2="169.7" y2="541.4" stroke="#9a9a9a" stroke-width="1"/>
<line x1="268.2" y1="522.4" x2="268.2" y2="534.3" stroke="#9a9a9a" stroke-width="1"/>
<polyline points="120.4,600.9 123.5,579.2 126.6,488.5 132.7,487.0 145.0,516.1 169.7,535.5 268.2,528.3" fill="none" stroke="#262626" stroke-width="1.6" stroke-linejoin="miter"/>
<rect x="120.4" y="471" width="148.7" height="148.8" fill="none" stroke="#8a8a8a" stroke-width="1.2"/>
<text x="117.2" y="609.2" font-size="12.8" text-anchor="end" fill="#222" stroke="#222" stroke-width="0.18">0</text>
<text x="117.2" y="579.5" font-size="12.8" text-anchor="end" fill="#222" stroke="#222" stroke-width="0.18">1</text>
<text x="117.2" y="549.7" font-size="12.8" text-anchor="end" fill="#222" stroke="#222" stroke-width="0.18">2</text>
<text x="117.2" y="520.0" font-size="12.8" text-anchor="end" fill="#222" stroke="#222" stroke-width="0.18">3</text>
<text x="117.2" y="490.2" font-size="12.8" text-anchor="end" fill="#222" stroke="#222" stroke-width="0.18">4</text>
<text x="120.4" y="631.4" font-size="12.8" text-anchor="middle" fill="#222" stroke="#222" stroke-width="0.18">0</text>
<text x="151.2" y="631.4" font-size="12.8" text-anchor="middle" fill="#222" stroke="#222" stroke-width="0.18">5</text>
<text x="182.0" y="631.4" font-size="12.8" text-anchor="middle" fill="#222" stroke="#222" stroke-width="0.18">10</text>
<text x="212.8" y="631.4" font-size="12.8" text-anchor="middle" fill="#222" stroke="#222" stroke-width="0.18">15</text>
<text x="243.6" y="631.4" font-size="12.8" text-anchor="middle" fill="#222" stroke="#222" stroke-width="0.18">20</text>
<text x="195.2" y="503.2" font-size="20" fill="#111" textLength="42.3" lengthAdjust="spacingAndGlyphs" stroke="#111" stroke-width="0.10">Il4ra</text>
<line x1="288.5" y1="604.5" x2="437.3" y2="604.5" stroke="#ebebeb" stroke-width="1"/>
<line x1="288.5" y1="600.0" x2="288.5" y2="603.0" stroke="#9a9a9a" stroke-width="1"/>
<line x1="291.6" y1="513.8" x2="291.6" y2="519.7" stroke="#9a9a9a" stroke-width="1"/>
<line x1="294.7" y1="498.3" x2="294.7" y2="507.8" stroke="#9a9a9a" stroke-width="1"/>
<line x1="300.8" y1="487.9" x2="300.8" y2="496.8" stroke="#9a9a9a" stroke-width="1"/>
<line x1="313.1" y1="514.1" x2="313.1" y2="526.0" stroke="#9a9a9a" stroke-width="1"/>
<line x1="337.8" y1="569.1" x2="337.8" y2="596.5" stroke="#9a9a9a" stroke-width="1"/>
<line x1="436.3" y1="573.9" x2="436.3" y2="586.9" stroke="#9a9a9a" stroke-width="1"/>
<polyline points="288.5,601.5 291.6,516.7 294.7,503.1 300.8,492.3 313.1,520.0 337.8,582.8 436.3,580.4" fill="none" stroke="#262626" stroke-width="1.6" stroke-linejoin="miter"/>
<rect x="288.5" y="471" width="148.8" height="148.8" fill="none" stroke="#8a8a8a" stroke-width="1.2"/>
<text x="285.3" y="609.2" font-size="12.8" text-anchor="end" fill="#222" stroke="#222" stroke-width="0.18">0</text>
<text x="285.3" y="579.5" font-size="12.8" text-anchor="end" fill="#222" stroke="#222" stroke-width="0.18">1</text>
<text x="285.3" y="549.7" font-size="12.8" text-anchor="end" fill="#222" stroke="#222" stroke-width="0.18">2</text>
<text x="285.3" y="520.0" font-size="12.8" text-anchor="end" fill="#222" stroke="#222" stroke-width="0.18">3</text>
<text x="285.3" y="490.2" font-size="12.8" text-anchor="end" fill="#222" stroke="#222" stroke-width="0.18">4</text>
<text x="288.5" y="631.4" font-size="12.8" text-anchor="middle" fill="#222" stroke="#222" stroke-width="0.18">0</text>
<text x="319.3" y="631.4" font-size="12.8" text-anchor="middle" fill="#222" stroke="#222" stroke-width="0.18">5</text>
<text x="350.1" y="631.4" font-size="12.8" text-anchor="middle" fill="#222" stroke="#222" stroke-width="0.18">10</text>
<text x="380.9" y="631.4" font-size="12.8" text-anchor="middle" fill="#222" stroke="#222" stroke-width="0.18">15</text>
<text x="411.7" y="631.4" font-size="12.8" text-anchor="middle" fill="#222" stroke="#222" stroke-width="0.18">20</text>
<text x="349.5" y="503.0" font-size="20" fill="#111" textLength="58.4" lengthAdjust="spacingAndGlyphs" stroke="#111" stroke-width="0.10">Socs3</text>
<line x1="120.4" y1="773.6" x2="269.1" y2="773.6" stroke="#ebebeb" stroke-width="1"/>
<line x1="120.4" y1="767.1" x2="120.4" y2="770.0" stroke="#9a9a9a" stroke-width="1"/>
<line x1="123.5" y1="746.2" x2="123.5" y2="752.2" stroke="#9a9a9a" stroke-width="1"/>
<line x1="126.6" y1="661.7" x2="126.6" y2="670.7" stroke="#9a9a9a" stroke-width="1"/>
<line x1="132.7" y1="695.7" x2="132.7" y2="702.8" stroke="#9a9a9a" stroke-width="1"/>
<line x1="145.0" y1="679.0" x2="145.0" y2="686.7" stroke="#9a9a9a" stroke-width="1"/>
<line x1="169.7" y1="710.5" x2="169.7" y2="721.2" stroke="#9a9a9a" stroke-width="1"/>
<line x1="268.2" y1="730.5" x2="268.2" y2="739.4" stroke="#9a9a9a" stroke-width="1"/>
<polyline points="120.4,768.5 123.5,749.2 126.6,666.2 132.7,699.2 145.0,682.9 169.7,715.9 268.2,734.9" fill="none" stroke="#262626" stroke-width="1.6" stroke-linejoin="miter"/>
<rect x="120.4" y="639.8" width="148.7" height="148.3" fill="none" stroke="#8a8a8a" stroke-width="1.2"/>
<text x="117.2" y="778.3" font-size="12.8" text-anchor="end" fill="#222" stroke="#222" stroke-width="0.18">0</text>
<text x="117.2" y="748.6" font-size="12.8" text-anchor="end" fill="#222" stroke="#222" stroke-width="0.18">1</text>
<text x="117.2" y="718.8" font-size="12.8" text-anchor="end" fill="#222" stroke="#222" stroke-width="0.18">2</text>
<text x="117.2" y="689.1" font-size="12.8" text-anchor="end" fill="#222" stroke="#222" stroke-width="0.18">3</text>
<text x="117.2" y="659.3" font-size="12.8" text-anchor="end" fill="#222" stroke="#222" stroke-width="0.18">4</text>
<text x="120.4" y="799.7" font-size="12.8" text-anchor="middle" fill="#222" stroke="#222" stroke-width="0.18">0</text>
<text x="151.2" y="799.7" font-size="12.8" text-anchor="middle" fill="#222" stroke="#222" stroke-width="0.18">5</text>
<text x="182.0" y="799.7" font-size="12.8" text-anchor="middle" fill="#222" stroke="#222" stroke-width="0.18">10</text>
<text x="212.8" y="799.7" font-size="12.8" text-anchor="middle" fill="#222" stroke="#222" stroke-width="0.18">15</text>
<text x="243.6" y="799.7" font-size="12.8" text-anchor="middle" fill="#222" stroke="#222" stroke-width="0.18">20</text>
<text x="197.0" y="672.0" font-size="20" fill="#111" textLength="41.8" lengthAdjust="spacingAndGlyphs" stroke="#111" stroke-width="0.10">Bcl3</text>
<line x1="288.5" y1="773.6" x2="437.3" y2="773.6" stroke="#ebebeb" stroke-width="1"/>
<line x1="288.5" y1="767.4" x2="288.5" y2="770.3" stroke="#9a9a9a" stroke-width="1"/>
<line x1="291.6" y1="752.2" x2="291.6" y2="758.1" stroke="#9a9a9a" stroke-width="1"/>
<line x1="294.7" y1="709.6" x2="294.7" y2="720.3" stroke="#9a9a9a" stroke-width="1"/>
<line x1="300.8" y1="717.7" x2="300.8" y2="726.0" stroke="#9a9a9a" stroke-width="1"/>
<line x1="313.1" y1="699.8" x2="313.1" y2="708.7" stroke="#9a9a9a" stroke-width="1"/>
<line x1="337.8" y1="721.2" x2="337.8" y2="732.5" stroke="#9a9a9a" stroke-width="1"/>
<line x1="436.3" y1="734.3" x2="436.3" y2="747.4" stroke="#9a9a9a" stroke-width="1"/>
<polyline points="288.5,768.8 291.6,755.2 294.7,715.0 300.8,721.8 313.1,704.3 337.8,726.9 436.3,740.9" fill="none" stroke="#262626" stroke-width="1.6" stroke-linejoin="miter"/>
<rect x="288.5" y="639.8" width="148.8" height="148.3" fill="none" stroke="#8a8a8a" stroke-width="1.2"/>
<text x="285.3" y="778.3" font-size="12.8" text-anchor="end" fill="#222" stroke="#222" stroke-width="0.18">0</text>
<text x="285.3" y="748.6" font-size="12.8" text-anchor="end" fill="#222" stroke="#222" stroke-width="0.18">1</text>
<text x="285.3" y="718.8" font-size="12.8" text-anchor="end" fill="#222" stroke="#222" stroke-width="0.18">2</text>
<text x="285.3" y="689.1" font-size="12.8" text-anchor="end" fill="#222" stroke="#222" stroke-width="0.18">3</text>
<text x="285.3" y="659.3" font-size="12.8" text-anchor="end" fill="#222" stroke="#222" stroke-width="0.18">4</text>
<text x="288.5" y="799.7" font-size="12.8" text-anchor="middle" fill="#222" stroke="#222" stroke-width="0.18">0</text>
<text x="319.3" y="799.7" font-size="12.8" text-anchor="middle" fill="#222" stroke="#222" stroke-width="0.18">5</text>
<text x="350.1" y="799.7" font-size="12.8" text-anchor="middle" fill="#222" stroke="#222" stroke-width="0.18">10</text>
<text x="380.9" y="799.7" font-size="12.8" text-anchor="middle" fill="#222" stroke="#222" stroke-width="0.18">15</text>
<text x="411.7" y="799.7" font-size="12.8" text-anchor="middle" fill="#222" stroke="#222" stroke-width="0.18">20</text>
<text x="354.8" y="671.0" font-size="20" fill="#111" textLength="52.9" lengthAdjust="spacingAndGlyphs" stroke="#111" stroke-width="0.10">Stat3</text>
<text transform="translate(92.2,730.8) rotate(-90)" font-size="18.2" fill="#222" textLength="193" lengthAdjust="spacingAndGlyphs">Expression (log2(ddCt))</text>
<text x="216.7" y="822.9" font-size="17.5" fill="#222" textLength="104.5" lengthAdjust="spacingAndGlyphs" stroke="#222" stroke-width="0.30">Time (Hours)</text>
<line x1="326.5" y1="847.3" x2="326.5" y2="1133.2" stroke="#dedede" stroke-width="1" stroke-dasharray="1.5,1.5"/>
<line x1="382.9" y1="847.3" x2="382.9" y2="1133.2" stroke="#dedede" stroke-width="1" stroke-dasharray="1.5,1.5"/>
<line x1="439.4" y1="847.3" x2="439.4" y2="1133.2" stroke="#dedede" stroke-width="1" stroke-dasharray="1.5,1.5"/>
<rect x="270.1" y="851.2" width="57.2" height="8.0" fill="#fff" stroke="#808080" stroke-width="0.9"/>
<rect x="270.1" y="859.2" width="10.5" height="7.7" fill="#000"/>
<path d="M303.1,855.2H350.8M303.1,853.4v3.6M350.8,853.4v3.6" stroke="#6a6a6a" stroke-width="0.9" fill="none"/>
<path d="M280.6,863.0H294.4M294.4,861.2v3.6" stroke="#6a6a6a" stroke-width="0.9" fill="none"/>
<text x="32.6" y="864.3" font-size="11.8" fill="#222" textLength="225.1" lengthAdjust="spacingAndGlyphs" stroke="#222" stroke-width="0.18">Stat3 (TCONS_00043162 - known isoform)</text>
<rect x="270.1" y="875.0" width="137.9" height="8.0" fill="#fff" stroke="#808080" stroke-width="0.9"/>
<rect x="270.1" y="883.0" width="63.4" height="7.7" fill="#000"/>
<path d="M396.5,879.0H419.0M396.5,877.2v3.6M419.0,877.2v3.6" stroke="#6a6a6a" stroke-width="0.9" fill="none"/>
<path d="M333.5,886.9H341.8M341.8,885.1v3.6" stroke="#6a6a6a" stroke-width="0.9" fill="none"/>
<text x="39.2" y="888.1" font-size="11.8" fill="#222" textLength="218.5" lengthAdjust="spacingAndGlyphs" stroke="#222" stroke-width="0.18">Stat3 (TCONS_00043161 - novel isoform)</text>
<rect x="270.1" y="898.8" width="114.3" height="8.0" fill="#fff" stroke="#808080" stroke-width="0.9"/>
<rect x="270.1" y="906.8" width="64.1" height="7.7" fill="#000"/>
<path d="M360.2,902.8H407.6M360.2,901.0v3.6M407.6,901.0v3.6" stroke="#6a6a6a" stroke-width="0.9" fill="none"/>
<path d="M334.2,910.7H349.8M349.8,908.9v3.6" stroke="#6a6a6a" stroke-width="0.9" fill="none"/>
<text x="39.2" y="911.9" font-size="11.8" fill="#222" textLength="218.5" lengthAdjust="spacingAndGlyphs" stroke="#222" stroke-width="0.18">Stat3 (TCONS_00041413 - novel isoform)</text>
<rect x="270.1" y="922.7" width="3.6" height="8.0" fill="#fff" stroke="#808080" stroke-width="0.9"/>
<rect x="270.1" y="930.7" width="3.6" height="7.7" fill="#000"/>
<path d="M272.0,926.7H278.2M272.0,924.9v3.6M278.2,924.9v3.6" stroke="#6a6a6a" stroke-width="0.9" fill="none"/>
<path d="M273.7,934.5H278.0M278.0,932.7v3.6" stroke="#6a6a6a" stroke-width="0.9" fill="none"/>
<text x="39.2" y="935.8" font-size="11.8" fill="#222" textLength="218.5" lengthAdjust="spacingAndGlyphs" stroke="#222" stroke-width="0.18">Stat3 (TCONS_00041412 - novel isoform)</text>
<rect x="270.1" y="946.5" width="48.6" height="8.0" fill="#fff" stroke="#808080" stroke-width="0.9"/>
<rect x="270.1" y="954.5" width="12.2" height="7.7" fill="#000"/>
<path d="M301.3,950.5H335.3M301.3,948.7v3.6M335.3,948.7v3.6" stroke="#6a6a6a" stroke-width="0.9" fill="none"/>
<path d="M282.3,958.4H292.0M292.0,956.6v3.6" stroke="#6a6a6a" stroke-width="0.9" fill="none"/>
<text x="39.2" y="959.6" font-size="11.8" fill="#222" textLength="218.5" lengthAdjust="spacingAndGlyphs" stroke="#222" stroke-width="0.18">Stat3 (TCONS_00041411 - novel isoform)</text>
<rect x="270.1" y="970.3" width="142.7" height="8.0" fill="#fff" stroke="#808080" stroke-width="0.9"/>
<rect x="270.1" y="978.3" width="2.9" height="7.7" fill="#000"/>
<path d="M386.1,974.3H437.4M386.1,972.5v3.6M437.4,972.5v3.6" stroke="#6a6a6a" stroke-width="0.9" fill="none"/>
<path d="M273.0,982.2H277.8M277.8,980.4v3.6" stroke="#6a6a6a" stroke-width="0.9" fill="none"/>
<text x="30.3" y="983.4" font-size="11.8" fill="#222" textLength="227.4" lengthAdjust="spacingAndGlyphs" stroke="#222" stroke-width="0.18">Socs3 (TCONS_00043332 - known isoform)</text>
<rect x="270.1" y="994.1" width="128.2" height="8.0" fill="#fff" stroke="#808080" stroke-width="0.9"/>
<rect x="270.1" y="1002.1" width="42.3" height="7.7" fill="#000"/>
<path d="M381.6,998.1H414.5M381.6,996.4v3.6M414.5,996.4v3.6" stroke="#6a6a6a" stroke-width="0.9" fill="none"/>
<path d="M312.4,1006.0H322.1M322.1,1004.2v3.6" stroke="#6a6a6a" stroke-width="0.9" fill="none"/>
<text x="38.3" y="1007.2" font-size="11.8" fill="#222" textLength="219.4" lengthAdjust="spacingAndGlyphs" stroke="#222" stroke-width="0.18">Bcl3 (TCONS_00004741 - known isoform)</text>
<rect x="270.1" y="1018.0" width="92.9" height="8.0" fill="#fff" stroke="#808080" stroke-width="0.9"/>
<rect x="270.1" y="1026.0" width="32.3" height="7.7" fill="#000"/>
<path d="M336.0,1022.0H389.6M336.0,1020.2v3.6M389.6,1020.2v3.6" stroke="#6a6a6a" stroke-width="0.9" fill="none"/>
<path d="M302.4,1029.8H317.6M317.6,1028.0v3.6" stroke="#6a6a6a" stroke-width="0.9" fill="none"/>
<text x="36.7" y="1031.1" font-size="11.8" fill="#222" textLength="221.0" lengthAdjust="spacingAndGlyphs" stroke="#222" stroke-width="0.18">Il4ra (TCONS_00006311 - known isoform)</text>
<rect x="270.1" y="1041.8" width="54.4" height="8.0" fill="#fff" stroke="#808080" stroke-width="0.9"/>
<rect x="270.1" y="1049.8" width="34.0" height="7.7" fill="#000"/>
<path d="M313.5,1045.8H336.0M313.5,1044.0v3.6M336.0,1044.0v3.6" stroke="#6a6a6a" stroke-width="0.9" fill="none"/>
<path d="M304.1,1053.7H313.5M313.5,1051.9v3.6" stroke="#6a6a6a" stroke-width="0.9" fill="none"/>
<text x="39.2" y="1054.9" font-size="11.8" fill="#222" textLength="218.5" lengthAdjust="spacingAndGlyphs" stroke="#222" stroke-width="0.18">Batf (TCONS_00037843 - known isoform)</text>
<rect x="270.1" y="1065.6" width="41.6" height="8.0" fill="#fff" stroke="#808080" stroke-width="0.9"/>
<rect x="270.1" y="1073.6" width="28.8" height="7.7" fill="#000"/>
<path d="M284.7,1069.6H339.4M284.7,1067.8v3.6M339.4,1067.8v3.6" stroke="#6a6a6a" stroke-width="0.9" fill="none"/>
<path d="M298.9,1077.5H312.4M312.4,1075.7v3.6" stroke="#6a6a6a" stroke-width="0.9" fill="none"/>
<text x="37.7" y="1078.7" font-size="11.8" fill="#222" textLength="220.0" lengthAdjust="spacingAndGlyphs" stroke="#222" stroke-width="0.18">Etv3 (TCONS_00032658 - known isoform)</text>
<rect x="270.1" y="1089.5" width="25.0" height="8.0" fill="#fff" stroke="#808080" stroke-width="0.9"/>
<rect x="270.1" y="1097.5" width="1.8" height="7.7" fill="#000"/>
<path d="M287.5,1093.5H302.4M287.5,1091.7v3.6M302.4,1091.7v3.6" stroke="#6a6a6a" stroke-width="0.9" fill="none"/>
<path d="M271.9,1101.3H272.5M272.5,1099.5v3.6" stroke="#6a6a6a" stroke-width="0.9" fill="none"/>
<text x="42.6" y="1102.5" font-size="11.8" fill="#222" textLength="215.1" lengthAdjust="spacingAndGlyphs" stroke="#222" stroke-width="0.18">Nfil3 (TCONS_00027611 - novel isoform)</text>
<rect x="270.1" y="1113.3" width="186.5" height="8.0" fill="#fff" stroke="#808080" stroke-width="0.9"/>
<rect x="270.1" y="1121.3" width="63.1" height="7.7" fill="#000"/>
<path d="M444.7,1117.3H468.0M444.7,1115.5v3.6M468.0,1115.5v3.6" stroke="#6a6a6a" stroke-width="0.9" fill="none"/>
<path d="M333.2,1125.1H340.5M340.5,1123.3v3.6" stroke="#6a6a6a" stroke-width="0.9" fill="none"/>
<text x="33.7" y="1126.4" font-size="11.8" fill="#222" textLength="224.0" lengthAdjust="spacingAndGlyphs" stroke="#222" stroke-width="0.18">Sbno2 (TCONS_00022756 - novel isoform)</text>
<path d="M265.5,847.3H495.8V1133.2" stroke="#999" stroke-width="1.2" fill="none"/>
<path d="M270.1,847.3V1133.2H495.8" stroke="#888" stroke-width="1.2" fill="none"/>
<line x1="265.5" y1="847.3" x2="270.1" y2="847.3" stroke="#888" stroke-width="1"/>
<line x1="265.5" y1="871.1" x2="270.1" y2="871.1" stroke="#888" stroke-width="1"/>
<line x1="265.5" y1="894.9" x2="270.1" y2="894.9" stroke="#888" stroke-width="1"/>
<line x1="265.5" y1="918.8" x2="270.1" y2="918.8" stroke="#888" stroke-width="1"/>
<line x1="265.5" y1="942.6" x2="270.1" y2="942.6" stroke="#888" stroke-width="1"/>
<line x1="265.5" y1="966.4" x2="270.1" y2="966.4" stroke="#888" stroke-width="1"/>
<line x1="265.5" y1="990.2" x2="270.1" y2="990.2" stroke="#888" stroke-width="1"/>
<line x1="265.5" y1="1014.1" x2="270.1" y2="1014.1" stroke="#888" stroke-width="1"/>
<line x1="265.5" y1="1037.9" x2="270.1" y2="1037.9" stroke="#888" stroke-width="1"/>
<line x1="265.5" y1="1061.7" x2="270.1" y2="1061.7" stroke="#888" stroke-width="1"/>
<line x1="265.5" y1="1085.5" x2="270.1" y2="1085.5" stroke="#888" stroke-width="1"/>
<line x1="265.5" y1="1109.4" x2="270.1" y2="1109.4" stroke="#888" stroke-width="1"/>
<line x1="265.5" y1="1133.2" x2="270.1" y2="1133.2" stroke="#888" stroke-width="1"/>
<line x1="270.1" y1="1133.2" x2="270.1" y2="1137.2" stroke="#888" stroke-width="1"/>
<text x="270.1" y="1155.2" font-size="11.3" text-anchor="middle" fill="#222" stroke="#222" stroke-width="0.18">0</text>
<line x1="326.5" y1="1133.2" x2="326.5" y2="1137.2" stroke="#888" stroke-width="1"/>
<text x="326.5" y="1155.2" font-size="11.3" text-anchor="middle" fill="#222" stroke="#222" stroke-width="0.18">100</text>
<line x1="382.9" y1="1133.2" x2="382.9" y2="1137.2" stroke="#888" stroke-width="1"/>
<text x="382.9" y="1155.2" font-size="11.3" text-anchor="middle" fill="#222" stroke="#222" stroke-width="0.18">200</text>
<line x1="439.4" y1="1133.2" x2="439.4" y2="1137.2" stroke="#888" stroke-width="1"/>
<text x="439.4" y="1155.2" font-size="11.3" text-anchor="middle" fill="#222" stroke="#222" stroke-width="0.18">300</text>
<line x1="495.8" y1="1133.2" x2="495.8" y2="1137.2" stroke="#888" stroke-width="1"/>
<text x="495.8" y="1155.2" font-size="11.3" text-anchor="middle" fill="#222" stroke="#222" stroke-width="0.18">400</text>
<text x="270.2" y="1173.5" font-size="17.5" fill="#111" textLength="238.3" lengthAdjust="spacingAndGlyphs" stroke="#111" stroke-width="0.30">RNA-seq expression (FPKM)</text>
<rect x="347.7" y="1035.8" width="155.2" height="63.7" fill="#fff" stroke="#888" stroke-width="1"/>
<rect x="362.7" y="1049.5" width="7.8" height="7.8" fill="#fff" stroke="#444" stroke-width="0.8"/>
<rect x="362.2" y="1079.8" width="8.6" height="8.2" fill="#000"/>
<text x="376.3" y="1058.2" font-size="14.5" fill="#111" textLength="115.1" lengthAdjust="spacingAndGlyphs" stroke="#111" stroke-width="0.30">IL-10 for 4 hours</text>
<text x="376.3" y="1090.5" font-size="14.5" fill="#111" textLength="71.4" lengthAdjust="spacingAndGlyphs" stroke="#111" stroke-width="0.30">Untreated</text>
</svg>
</body></html>
